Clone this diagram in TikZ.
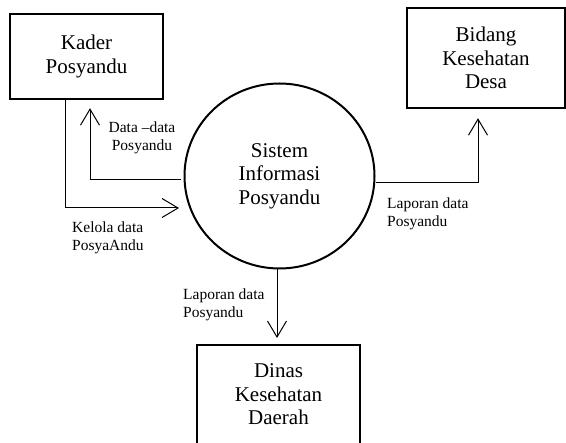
\documentclass[tikz,border=0pt]{standalone}
\usepackage{fontspec}
\setmainfont{Liberation Serif}
\usetikzlibrary{arrows.meta,shapes.geometric}
\tikzset{
  entity/.style={draw, line width=2.4pt, rectangle, inner sep=0pt, align=center,
    font=\fontsize{21}{23.5}\selectfont},
  proc/.style={draw, line width=2pt, ellipse, inner sep=0pt, align=center,
    minimum width=190pt, minimum height=185pt, font=\fontsize{21}{23.5}\selectfont},
  bigtext/.style={inner sep=0pt, align=center, font=\fontsize{21}{23.5}\selectfont},
  flowlabel/.style={inner sep=0pt, font=\fontsize{15.5}{18}\selectfont},
  flow/.style={line width=1pt, -{Straight Barb[length=16pt,width=19pt]}}
}
\begin{document}
\begin{tikzpicture}[x=1pt,y=-1pt]
\useasboundingbox (0,0) rectangle (566,443);
\clip (0,0) rectangle (566,443);
\node[entity, minimum width=153pt, minimum height=85pt] (kader) at (86.5,56.5) {Kader\\Posyandu};
\node[entity, minimum width=158pt, minimum height=100pt] (bidang) at (486,58) {Bidang\\Kesehatan\\Desa};
\node[proc] (circ) at (279.5,176) {Sistem\\Informasi\\Posyandu};
\node[entity, minimum width=163pt, minimum height=130pt, anchor=north] (dinas) at (278.5,344) {};
\node[bigtext] (dinastext) at (278.5,394.5) {Dinas\\Kesehatan\\Daerah};

\draw[flow, shorten >=4.5pt] (kader.south -| 65,0) |- (circ.west |- 0,208);
\draw[flow, shorten <=3pt, shorten >=8pt] (circ.west |- 0,180) -| (kader.south -| 90,0);
\draw[flow, shorten >=9pt] (circ.east |- 0,183) -| (bidang.south -| 478,0);
\draw[flow, shorten >=6pt] (circ.south -| 277,0) -- (dinas.north -| 277,0);

\node[flowlabel, align=center] (l1) at (142,137.4) {Data –data\\Posyandu};
\node[flowlabel, align=left, anchor=west] (l2) at (72,237.4) {Kelola data\\PosyaAndu};
\node[flowlabel, align=left, anchor=west] (l3) at (387,213.4) {Laporan data\\Posyandu};
\node[flowlabel, align=left, anchor=west] (l4) at (183,304.4) {Laporan data\\Posyandu};
\end{tikzpicture}
\end{document}
